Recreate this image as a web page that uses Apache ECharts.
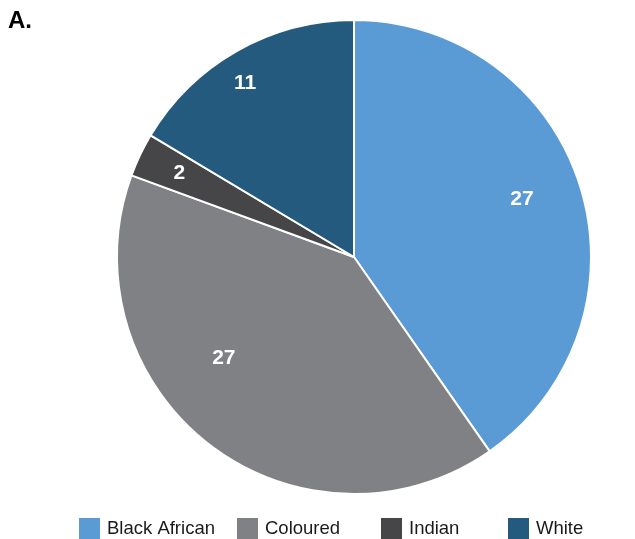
<!DOCTYPE html>
<html>
<head>
<meta charset="utf-8">
<script src="https://cdn.jsdelivr.net/npm/echarts@6/dist/echarts.min.js"></script>
<style>
html,body{margin:0;padding:0;background:#fff;}
#chart{width:635px;height:539px;}
</style>
</head>
<body>
<div id="chart"></div>
<script>
const categories = ['Black African', 'Coloured', 'Indian', 'White'];
const values = [27, 27, 2, 11];

const colors = ['#5B9BD5', '#808184', '#464648', '#235A7E'];
const labelOffsets = [[52, -21], [-56, 5], [-65, -31], [-49, -68]];
const legendLefts = [77, 235, 379, 506];

const chart = echarts.init(document.getElementById('chart'), null, {renderer: 'canvas'});

const data = categories.map((c, i) => ({
  name: c,
  value: values[i],
  itemStyle: {color: colors[i]},
  label: {offset: labelOffsets[i]}
}));

const legends = categories.map((c, i) => ({
  data: [c],
  left: legendLefts[i],
  top: 516,
  orient: 'horizontal',
  itemWidth: 23,
  itemHeight: 23,
  icon: 'rect',
  padding: 0,
  selectedMode: false,
  textStyle: {fontFamily: '"Liberation Sans", Arial, sans-serif', fontSize: 18.5, color: '#1a1a1a', padding: [0, 0, 0, 1]}
}));

chart.setOption({
  animation: false,
  color: colors,
  title: {
    text: 'A.',
    left: 3,
    top: 4,
    textStyle: {fontFamily: 'Liberation Sans, Arial, sans-serif', fontSize: 24, fontWeight: 'bold', color: '#000'}
  },
  legend: legends,
  series: [{
    type: 'pie',
    center: [354, 257],
    radius: [0, 237],
    startAngle: 90,
    clockwise: true,
    avoidLabelOverlap: false,
    itemStyle: {borderColor: '#fff', borderWidth: 2},
    label: {
      show: true,
      position: 'inside',
      formatter: '{c}',
      color: '#fff',
      fontSize: 21,
      fontWeight: 'bold',
      fontFamily: 'Liberation Sans, Arial, sans-serif'
    },
    labelLine: {show: false},
    emphasis: {disabled: true},
    data: data
  }]
});
</script>
</body>
</html>
